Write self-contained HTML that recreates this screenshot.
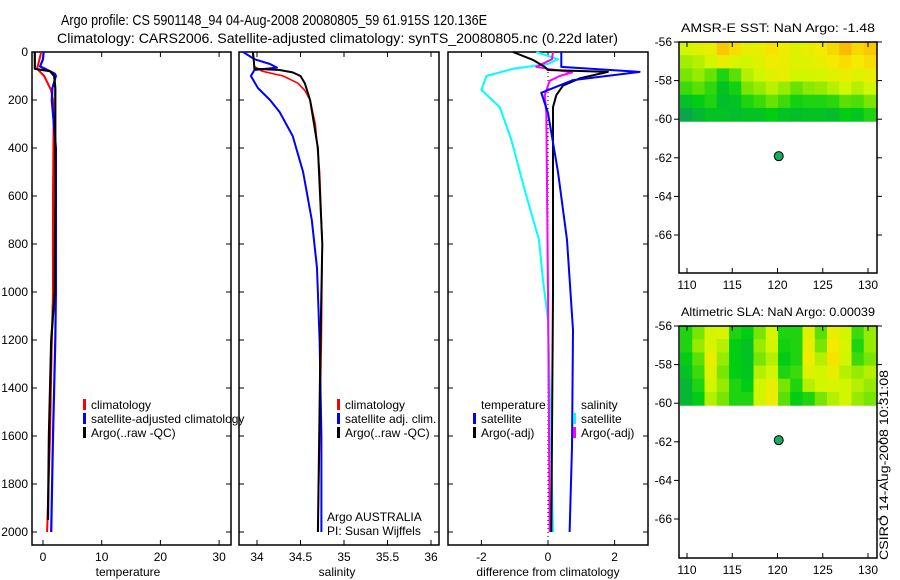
<!DOCTYPE html>
<html><head><meta charset="utf-8"><style>
body{margin:0;background:#fff}
svg{display:block;font-family:"Liberation Sans",sans-serif}
text{font-size:12px;fill:#000}
</style></head><body>
<svg id="fig" width="900" height="580" viewBox="0 0 900 580">
<text x="61" y="25" textLength="426" lengthAdjust="spacingAndGlyphs" style="font-size:15px">Argo profile: CS 5901148_94 04-Aug-2008 20080805_59 61.915S 120.136E</text>
<text x="57" y="43" textLength="561" lengthAdjust="spacingAndGlyphs" style="font-size:14px">Climatology: CARS2006. Satellite-adjusted climatology: synTS_20080805.nc (0.22d later)</text>
<text x="778" y="32" text-anchor="middle" textLength="194" lengthAdjust="spacingAndGlyphs">AMSR-E SST: NaN Argo: -1.48</text>
<text x="778" y="316" text-anchor="middle" textLength="194" lengthAdjust="spacingAndGlyphs">Altimetric SLA: NaN Argo: 0.00039</text>
<text transform="translate(888,465) rotate(-90)" text-anchor="middle" textLength="190" lengthAdjust="spacingAndGlyphs">CSIRO 14-Aug-2008 10:31:08</text>
</svg>
<script>
// ---- data ----
const depthTicks=[0,200,400,600,800,1000,1200,1400,1600,1800,2000];
const tempTicks=[0,10,20,30];
const salTicks=[34,34.5,35,35.5,36];
const diffTicks=[-2,0,2];
const lonTicks=[110,115,120,125,130];
const latTicks=[-56,-58,-60,-62,-64,-66];
// temperature profiles: depth / value
const tClimD=[0,30,70,100,158,200,300,600,1000,1200,1600,2000];
const tClimV=[-0.3,-0.6,-1.0,0.2,1.36,1.7,1.8,1.7,1.7,1.5,1.2,0.7];
const tSatD=[0,30,60,90,100,150,200,400,1000,1200,1600,2000];
const tSatV=[0.1,0,-0.5,2.0,2.2,1.6,1.5,2.2,2.2,2.1,1.7,1.4];
const tArgoD=[0,70,80,100,150,600,1000,1200,1600,1950];
const tArgoV=[-1.4,-1.4,1.2,1.9,2.1,2.1,2.0,1.4,1.0,0.85];
// salinity profiles
const sClimD=[0,60,80,100,130,160,200,300,500,800,1200,2000];
const sClimV=[33.95,33.97,34.06,34.3,34.47,34.55,34.61,34.67,34.72,34.75,34.74,34.7];
const sSatD=[0,30,50,65,75,100,150,200,250,350,500,700,900,1200,1600,2000];
const sSatV=[33.84,33.97,34.15,34.23,33.97,33.93,34.01,34.15,34.26,34.41,34.53,34.63,34.69,34.72,34.74,34.74];
const sArgoD=[0,20,70,75,85,100,130,200,400,800,1200,2000];
const sArgoV=[33.95,33.96,33.97,34.26,34.41,34.5,34.55,34.61,34.7,34.75,34.73,34.7];
// differences from climatology
const dTSatD=[0,62,83,117,170,254,500,783,1158,1646,2000];
const dTSatV=[0.4,0.4,2.75,0.75,-0.2,0,0.3,0.57,0.75,0.72,0.65];
const dTArgoD=[0,33,62,75,83,110,140,180,230,1000,2000];
const dTArgoV=[-1.05,-0.45,-0.1,0,1.8,0.95,0.45,0.25,0.15,0.15,0.1];
const dSSatD=[0,30,50,70,100,158,229,367,575,783,950,1117,1437,2000];
const dSSatV=[-0.35,0.3,0,-1.05,-1.85,-2.0,-1.45,-1.1,-0.7,-0.27,-0.15,0,0.06,0.15];
const dSArgoD=[0,30,62,70,85,100,120,180,250,1000,2000];
const dSArgoV=[0.15,0.12,-0.35,0,0.72,0.35,0.05,-0.1,-0.05,0,0.05];
// map grids (0 = dark green .. 1 = orange), rows from -56 to -60
const sstGrid=[
[.6,.65,.7,.88,.8,.7,.7,.78,.72,.65,.7,.75,.82,.92,.82,.88],
[.52,.55,.6,.7,.62,.6,.65,.72,.7,.65,.65,.7,.75,.8,.75,.8],
[.45,.5,.42,.3,.4,.55,.6,.66,.7,.6,.6,.62,.65,.7,.65,.7],
[.35,.4,.33,.2,.28,.45,.5,.56,.5,.42,.48,.5,.55,.6,.55,.6],
[.2,.25,.3,.18,.2,.3,.35,.42,.35,.28,.3,.3,.32,.4,.38,.45],
[.08,.15,.2,.2,.18,.2,.2,.25,.2,.18,.2,.2,.18,.25,.22,.3]];
const slaGrid=[
[.3,.45,.6,.62,.3,.25,.45,.62,.3,.3,.65,.4,.7,.6,.35,.5],
[.3,.5,.62,.55,.25,.2,.5,.6,.28,.3,.7,.45,.75,.62,.3,.5],
[.25,.4,.7,.5,.25,.2,.45,.55,.25,.3,.72,.55,.78,.6,.35,.45],
[.2,.35,.65,.45,.25,.22,.55,.6,.3,.35,.65,.6,.7,.55,.5,.55],
[.15,.3,.6,.5,.3,.25,.6,.7,.45,.3,.55,.6,.62,.6,.55,.5],
[.15,.25,.55,.45,.3,.3,.6,.72,.4,.25,.3,.45,.55,.6,.5,.45]];

// ---- helpers ----
const NS='http://www.w3.org/2000/svg';
const svg=document.getElementById('fig');
function mk(tag,attrs,parent){const e=document.createElementNS(NS,tag);for(const k in attrs)e.setAttribute(k,attrs[k]);(parent||svg).appendChild(e);return e;}
const yDepth=d=>52+d*0.24;
const xTemp=v=>43+v*5.87;
const xSal=v=>257+(v-34)*87;
const xDiff=v=>548+v*33.3;
const xLon=v=>687+(v-110)*9.05;
const yLat1=v=>42+(-56-v)*19.3;
const yLat2=v=>326+(-56-v)*19.3;

function frame(x0,x1,y0,y1,name){
  const r=mk('rect',{x:x0,y:y0,width:x1-x0,height:y1-y0,fill:'none',stroke:'#000','stroke-width':1.5});
  
  
}
function depthAxis(x0,x1,labels){
  depthTicks.forEach(d=>{
    const y=yDepth(d);
    mk('line',{x1:x0,x2:x0+5,y1:y,y2:y,stroke:'#000'});
    mk('line',{x1:x1,x2:x1-5,y1:y,y2:y,stroke:'#000'});
    if(labels){const t=mk('text',{x:x0-4,y:y+4,'text-anchor':'end'});t.textContent=d;
      
      }
  });
}
function xAxis(ticks,fx,y0,y1,lab,xlabel,cx){
  ticks.forEach(v=>{
    const x=fx(v);
    mk('line',{x1:x,x2:x,y1:y1,y2:y1-5,stroke:'#000'});
    mk('line',{x1:x,x2:x,y1:y0,y2:y0+5,stroke:'#000'});
    const t=mk('text',{x:x,y:y1+16,'text-anchor':'middle'});t.textContent=v;
    
    
  });
  if(xlabel){const t=mk('text',{x:cx,y:y1+31,'text-anchor':'middle'});t.textContent=xlabel;
    
    }
}
function profile(ds,vs,fx,color,w,name){
  const pts=ds.map((d,i)=>fx(vs[i]).toFixed(1)+','+yDepth(d).toFixed(1)).join(' ');
  const p=mk('polyline',{points:pts,fill:'none',stroke:color,'stroke-width':w,'stroke-linejoin':'round'});
  
  
}
function legend(x,y,color,label,name){
  if(color)mk('rect',{x:x,y:y-10,width:3,height:11,fill:color});
  const t=mk('text',{x:x+8,y:y});t.textContent=label;
  
  
}
function colorOf(v){
  const stops=[[0,[10,150,100]],[0.25,[0,205,20]],[0.45,[120,230,0]],[0.6,[210,245,0]],[0.75,[245,235,0]],[0.9,[250,195,0]],[1,[250,160,0]]];
  for(let i=1;i<stops.length;i++){if(v<=stops[i][0]){const a=stops[i-1],b=stops[i],t=(v-a[0])/(b[0]-a[0]);
    return 'rgb('+a[1].map((c,k)=>Math.round(c+(b[1][k]-c)*t)).join(',')+')';}}
  return 'rgb(250,160,0)';
}
function heatmap(grid,yTop,yBot,name){
  const x0=680,x1=876,rows=grid.length,cols=grid[0].length;
  const cw=(x1-x0)/cols,ch=(yBot-yTop)/rows;
  grid.forEach((row,r)=>row.forEach((v,c)=>{
    const e=mk('rect',{x:x0+c*cw,y:yTop+r*ch,width:cw+0.6,height:ch+0.6,fill:colorOf(v)});
    
    
  }));
}
function mapPanel(grid,fy,yTop,yBot,name){
  heatmap(grid,yTop,fy(-60.1),name);
  frame(679,877,yTop,yBot,name+'-frame');
  latTicks.forEach(v=>{const y=fy(v);
    mk('line',{x1:674,x2:679,y1:y,y2:y,stroke:'#000'});
    mk('line',{x1:877,x2:882,y1:y,y2:y,stroke:'#000'});
    const t=mk('text',{x:672,y:y+4,'text-anchor':'end'});t.textContent=v;
    
    });
  lonTicks.forEach(v=>{const x=xLon(v);
    mk('line',{x1:x,x2:x,y1:yBot,y2:yBot-5,stroke:'#000'});
    mk('line',{x1:x,x2:x,y1:yTop,y2:yTop+5,stroke:'#000'});
    const t=mk('text',{x:x,y:yBot+16,'text-anchor':'middle'});t.textContent=v;
    
    });
  const dot=mk('circle',{cx:xLon(120.136),cy:fy(-61.915),r:4.5,fill:'#10b060',stroke:'#000','stroke-width':1});
  
  
}

// ---- panel 1: temperature ----
frame(32,231,52,545,'temperature-panel');
depthAxis(32,231,true);
xAxis(tempTicks,xTemp,52,545,true,'temperature',128);
profile(tClimD,tClimV,xTemp,'#f00',2,'temp-climatology-line');
profile(tSatD,tSatV,xTemp,'#00f',2.2,'temp-satellite-line');
profile(tArgoD,tArgoV,xTemp,'#000',2.2,'temp-argo-line');
legend(83,409,'#f00','climatology','legend-climatology');
legend(83,423,'#00f','satellite-adjusted climatology','legend-satellite-adjusted');
legend(83,437,'#000','Argo(..raw -QC)','legend-argo');

// ---- panel 2: salinity ----
frame(239,439,52,545,'salinity-panel');
depthAxis(239,439,false);
xAxis(salTicks,xSal,52,545,true,'salinity',337);
profile(sClimD,sClimV,xSal,'#f00',1.6,'sal-climatology-line');
profile(sSatD,sSatV,xSal,'#00f',2,'sal-satellite-line');
profile(sArgoD,sArgoV,xSal,'#000',2,'sal-argo-line');
legend(337,409,'#f00','climatology','legend-sal-climatology');
legend(337,423,'#00f','satellite adj. clim.','legend-sal-satellite');
legend(337,437,'#000','Argo(..raw -QC)','legend-sal-argo');
legend(319,521,null,'Argo AUSTRALIA','argo-australia-label');
legend(319,535,null,'PI: Susan Wijffels','pi-label');

// ---- panel 3: differences ----
frame(448,648,52,545,'difference-panel');
depthAxis(448,648,false);
xAxis(diffTicks,xDiff,52,545,true,'difference from climatology',548);
mk('line',{x1:xDiff(0),x2:xDiff(0),y1:52,y2:545,stroke:'#000','stroke-dasharray':'1,3'});
profile(dSSatD,dSSatV,xDiff,'#0ff',2,'diff-sal-satellite-line');
profile(dSArgoD,dSArgoV,xDiff,'#f0f',2,'diff-sal-argo-line');
profile(dTArgoD,dTArgoV,xDiff,'#000',2,'diff-temp-argo-line');
profile(dTSatD,dTSatV,xDiff,'#00f',2,'diff-temp-satellite-line');
legend(473,409,null,'temperature','legend-diff-temperature');
legend(473,423,'#00f','satellite','legend-diff-temp-satellite');
legend(473,437,'#000','Argo(-adj)','legend-diff-temp-argo');
legend(573,409,null,'salinity','legend-diff-salinity');
legend(573,423,'#0ff','satellite','legend-diff-sal-satellite');
legend(573,437,'#f0f','Argo(-adj)','legend-diff-sal-argo');

// ---- maps ----
mapPanel(sstGrid,yLat1,42,273,'sst-map');
mapPanel(slaGrid,yLat2,326,558,'sla-map');
</script>
</body></html>
